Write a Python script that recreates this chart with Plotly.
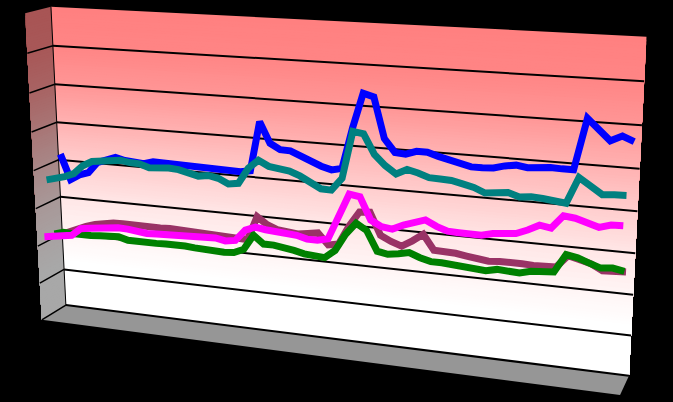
import numpy as np
import plotly.graph_objects as go

CATEGORIES = list(range(1, 57))
VALUE_TICKS = list(range(0, 9))
BLUE = [419,353,368,376,405,415,423,417,415,413,420,419,419,416,418,416,415,416,415,414,419,545,493,479,478,466,456,446,439,445,546,633,626,527,495,493,502,502,494,488,482,475,475,477,484,488,484,488,489,488,488,610,585,562,575,564]
MAROON = [207,218,227,238,246,251,255,256,255,253,254,255,256,255,250,250,249,249,248,248,248,310,292,282,277,276,280,284,256,261,309,347,349,294,281,272,288,307,270,270,268,264,260,257,259,261,259,258,257,260,290,285,276,262,264,265]
GREEN = [217,224,223,222,223,225,227,228,221,220,220,221,222,223,222,220,218,218,217,219,230,269,249,249,247,241,235,231,231,252,295,326,310,261,256,260,266,256,249,249,246,244,242,241,247,247,244,251,254,255,300,295,285,276,279,274]
TEAL = [368,373,381,391,414,427,431,436,437,433,432,424,427,428,426,420,414,418,413,401,405,445,467,454,451,447,437,425,410,409,440,556,552,505,480,462,475,469,460,459,458,452,446,435,437,441,433,436,434,431,428,490,472,455,457,458]
MAGENTA = [223,229,231,235,255,259,263,267,268,267,263,261,262,263,265,268,266,268,268,263,267,296,306,302,301,300,296,289,289,295,356,410,406,352,338,335,347,354,365,352,343,342,341,341,348,351,353,364,378,374,405,402,396,386,394,395]

T=[((0,1,1),(51,7)),((1,1,1),(646.5,37)),((1,1,0),(629,376)),((0,1,0),(66,305)),((0,0,0),(42,320)),((1,0,0),(620,395)),((0,0,1),(25,13)),
   ((0,1,.5),(58.5,160)),((1,1,.5),(637.5,211)),((0,1,.25),(62,233)),((1,1,.25),(633,295)),((0,1,.75),(55,84)),((1,1,.75),(642,125))]
A=[]
for (x,y,z),(u,v) in T:
    A.append([x,y,z,1,0,0,0,0,-u*x,-u*y,-u*z,-u]);A.append([0,0,0,0,x,y,z,1,-v*x,-v*y,-v*z,-v])
P=np.linalg.svd(np.array(A,float))[2][-1].reshape(3,4)
def proj(x,y,z):
    x,y,z=np.broadcast_arrays(np.asarray(x,float),np.asarray(y,float),np.asarray(z,float))
    q=P@np.vstack([x.ravel(),y.ravel(),z.ravel(),np.ones(x.size)])
    return q[0]/q[2],q[1]/q[2]

Z_STOPS=[0,1.2,2,3,4,5,6,7,8]
G_STOPS=[255,255,245,230,205,178,150,133,128]
def wall(z):
    g=np.interp(z,Z_STOPS,G_STOPS);return 255,g,g
fig=go.Figure()
def poly(xs,ys,color):
    fig.add_trace(go.Scatter(x=xs,y=ys,mode='lines',fill='toself',fillcolor=color,line=dict(width=0),hoverinfo='skip',showlegend=False))
def seg(x0,y0,z0,x1,y1,z1,width,color='#000000'):
    u,v=proj([x0,x1],[y0,y1],[z0,z1])
    fig.add_trace(go.Scatter(x=u,y=v,mode='lines',line=dict(width=width,color=color),hoverinfo='skip',showlegend=False))
BANDS=120
for k in range(BANDS,0,-1):
    zf=k/BANDS;r,g,b=wall(8*(k-.5)/BANDS)
    u,v=proj([0,1,1,0,0],[1,1,1,1,1],[zf,zf,0,0,zf])
    poly(u,v,f'rgb({r:.0f},{g:.0f},{b:.0f})')
    u,v=proj([0,0,0,0,0],[1,0,0,1,1],[zf,zf,0,0,zf])
    poly(u,v,f'rgb({r*.66:.0f},{g*.66:.0f},{b*.66:.0f})')
u,v=proj([0,1,1,0,0],[1,1,0,0,1],[0,0,0,0,0]);poly(u,v,'#969696')
for t in VALUE_TICKS:
    if t==8: continue
    zf=t/8
    seg(0,1,zf,1,1,zf,2)
    seg(0,1,zf,0,0,zf,1.5)
seg(0,1,0,0,1,1,1)
xf=(np.array(CATEGORIES)-.5)/len(CATEGORIES)
for arr,d,c in ((BLUE,.1,'#0000FF'),(MAROON,.3,'#993366'),(GREEN,.5,'#008000'),(TEAL,.7,'#008080'),(MAGENTA,.9,'#FF00FF')):
    u,v=proj(xf,1-d,np.array(arr)/800)
    fig.add_trace(go.Scatter(x=u,y=v,mode='lines',line=dict(width=7,color=c),hoverinfo='skip',showlegend=False))
fig.update_layout(width=673,height=402,margin=dict(l=0,r=0,t=0,b=0),paper_bgcolor='#000000',plot_bgcolor='#000000',
    xaxis=dict(range=[0,673],visible=False),yaxis=dict(range=[402,0],visible=False))
fig.write_html("out.html",config=dict(displayModeBar=False),post_script="document.body.style.margin='0';document.body.style.background='#000';document.body.style.overflow='hidden';")
